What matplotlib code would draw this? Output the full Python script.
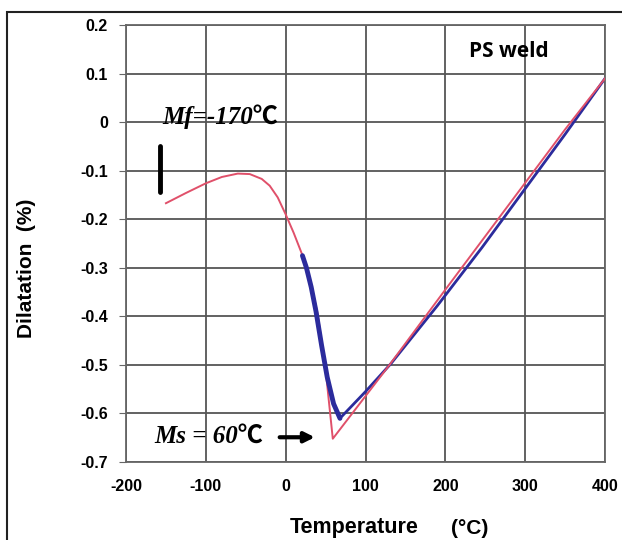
import numpy as np
import matplotlib.pyplot as plt
from matplotlib.patches import Rectangle

plt.rcParams["axes.unicode_minus"] = False

# red curve (cooling trace)
red_T = [-150, -125, -100, -80, -60, -45, -30, -20, -10, 0, 10, 20, 30, 40, 50, 59,
         130, 200, 250, 300, 350, 400]
red_D = [-0.167, -0.146, -0.126, -0.113, -0.106, -0.107, -0.117, -0.131, -0.155,
         -0.19, -0.228, -0.27, -0.32, -0.395, -0.51, -0.652,
         -0.50, -0.345, -0.235, -0.125, -0.015, 0.09]

# blue curve (fit), left branch is drawn thicker
blue_left_T = [21, 26, 32, 38, 45, 52, 60, 68]
blue_left_D = [-0.275, -0.30, -0.34, -0.39, -0.46, -0.525, -0.58, -0.61]
blue_right_T = [68, 100, 132, 190, 246, 300, 350, 400]
blue_right_D = [-0.61, -0.555, -0.497, -0.378, -0.258, -0.137, -0.025, 0.09]

xticks = [-200, -100, 0, 100, 200, 300, 400]
yticks = [0.2, 0.1, 0, -0.1, -0.2, -0.3, -0.4, -0.5, -0.6, -0.7]
ytick_labels = ["0.2", "0.1", "0", "-0.1", "-0.2", "-0.3", "-0.4", "-0.5", "-0.6", "-0.7"]

serif = ["Liberation Serif", "Noto Sans CJK SC"]

fig = plt.figure(figsize=(6.22, 5.40), dpi=100)
ax = fig.add_axes([0.2026, 0.1444, 0.7701, 0.8093])

ax.plot(red_T, red_D, color="#e0506a", lw=1.4, zorder=3)
ax.plot(blue_left_T, blue_left_D, color="#2b2b9c", lw=3.5, solid_capstyle="round", zorder=4)
ax.plot(blue_right_T, blue_right_D, color="#2b2b9c", lw=2.0, zorder=2)

ax.set_xlim(-200, 400)
ax.set_ylim(-0.7, 0.2)
ax.set_xticks(xticks)
ax.set_yticks(yticks)
ax.set_yticklabels(ytick_labels)
ax.grid(True, color="#555555", lw=1.3)
ax.set_axisbelow(True)
for s in ax.spines.values():
    s.set_color("#666666")
    s.set_linewidth(1.3)
ax.tick_params(axis="x", length=0, pad=12)
ax.tick_params(axis="y", length=5, color="#666666", pad=8)
for lab in ax.get_xticklabels() + ax.get_yticklabels():
    lab.set_fontweight("bold")
    lab.set_fontsize(11.5)
    lab.set_family("Liberation Sans")

# annotations
ax.text(-155, 0.012, "Mf=-170\u2103", family=serif, style="italic", fontweight="bold",
        fontsize=18, va="center", ha="left")
ax.plot([-157.5, -157.5], [-0.05, -0.144], color="black", lw=3.5, solid_capstyle="round")
ax.text(-164, -0.648, "Ms = 60\u2103", family=serif, style="italic", fontweight="bold",
        fontsize=18, va="center", ha="left")
ax.annotate("", xy=(40, -0.649), xytext=(-11, -0.649),
            arrowprops=dict(arrowstyle="-|>,head_length=0.5,head_width=0.25",
                            color="black", lw=3, mutation_scale=12))
ax.text(280, 0.145, "PS weld", family="Open Sans", fontweight="bold",
        fontsize=15, ha="center", va="center")

fig.text(27 / 622, 1 - 268 / 540, "Dilatation  (%)", rotation=90, fontsize=15,
         fontweight="bold", family="Liberation Sans", ha="center", va="center")
fig.text(354 / 622, 1 - 528 / 540, "Temperature", fontsize=15.5,
         fontweight="bold", family="Liberation Sans", ha="center", va="center")
fig.text(470 / 622, 1 - 528 / 540, "(\u00b0C)", fontsize=15,
         fontweight="bold", family="Liberation Sans", ha="center", va="center")

# outer frame of the original figure
fig.patches.append(Rectangle((7 / 622, -0.1), 1.2, 1 - 12 / 540 + 0.1,
                             transform=fig.transFigure, fill=False,
                             edgecolor="#222222", lw=1.5))

fig.savefig("out.png", dpi=100)
